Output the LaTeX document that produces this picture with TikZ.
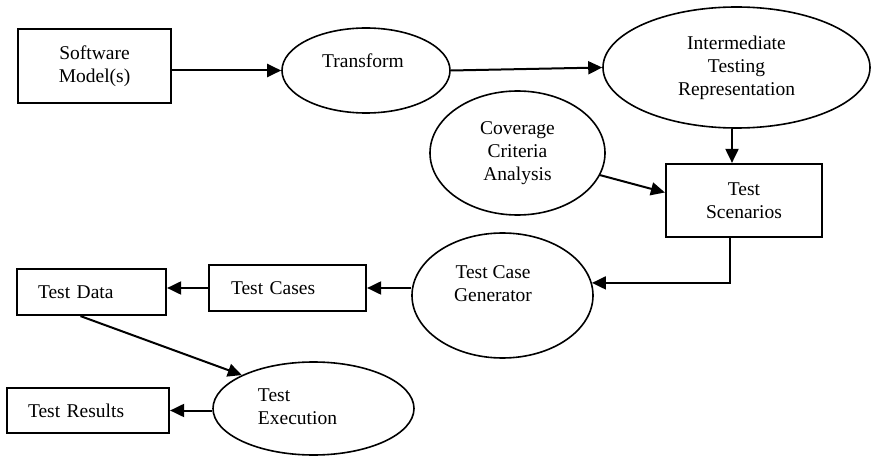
\documentclass[tikz,border=0pt]{standalone}
\usepackage{fontspec}
\setmainfont{Liberation Serif}
\usetikzlibrary{shapes.geometric,arrows.meta}
\tikzset{
  box/.style={draw, line width=2.2pt, align=center, inner sep=0pt},
  oval/.style={draw, ellipse, line width=1.6pt, align=center, inner sep=0pt},
  arr/.style={line width=2pt, -{Triangle[length=14pt,width=13pt]}},
}
\begin{document}
\begin{tikzpicture}[x=1pt,y=-1pt,font=\fontsize{19.5}{23}\selectfont]
    \useasboundingbox (0,0) rectangle (873,457);
    % boxes
    \node[box, minimum width=153pt, minimum height=74pt] (model) at (94.5,66) {Software\\Model(s)};
    \node[box, minimum width=156pt, minimum height=73pt] (scen) at (744,200.5) {Test\\Scenarios};
    \node[box, align=left, text width=113pt, inner xsep=22pt, minimum height=46pt] (cases) at (287.5,288) {Test Cases};
    \node[box, align=left, text width=107pt, inner xsep=21pt, minimum height=46pt] (data) at (91.5,292) {Test Data};
    \node[box, align=left, text width=120pt, inner xsep=21pt, minimum height=45pt] (res) at (88,410.5) {Test Results};
    % ellipses
    \node[oval, minimum width=168pt, minimum height=85pt,
          label={[xshift=-3pt,yshift=9.5pt]center:Transform}] (trans) at (366,70.5) {};
    \node[oval, minimum width=267pt, minimum height=121pt] (itr) at (736.5,67.5) {Intermediate\\Testing\\Representation};
    \node[oval, minimum width=175pt, minimum height=124pt] (cov) at (517.5,153) {Coverage\\Criteria\\Analysis};
    \node[oval, minimum width=181pt, minimum height=125pt,
          label={[align=center,xshift=-9.5pt,yshift=12pt]center:{Test Case\\Generator}}] (gen) at (502.5,295.5) {};
    \node[oval, minimum width=201pt, minimum height=93pt,
          label={[align=left,xshift=-16pt,yshift=2pt]center:{Test\\Execution}}] (exec) at (313.5,408.5) {};
    % connectors
    \draw[arr] (model.east |- trans.west) -- (trans.west);
    \draw[arr] (trans.east) -- (itr.west);
    \draw[arr] ([xshift=-4.5pt]itr.south) -- ([xshift=-4.5pt]itr.south |- scen.north);
    \draw[arr] (cov.-15) -- ([yshift=8pt]scen.west);
    \draw[arr] ([xshift=-14pt]scen.south) |- (gen.8);
    \draw[arr] (gen.west |- cases.east) -- (cases.east);
    \draw[arr] (cases.west) -- (cases.west -| data.east);
    \draw[arr] ([xshift=-11pt]data.south) -- (exec.155);
    \draw[arr] (exec.west |- res.east) -- (res.east);
\end{tikzpicture}
\end{document}
